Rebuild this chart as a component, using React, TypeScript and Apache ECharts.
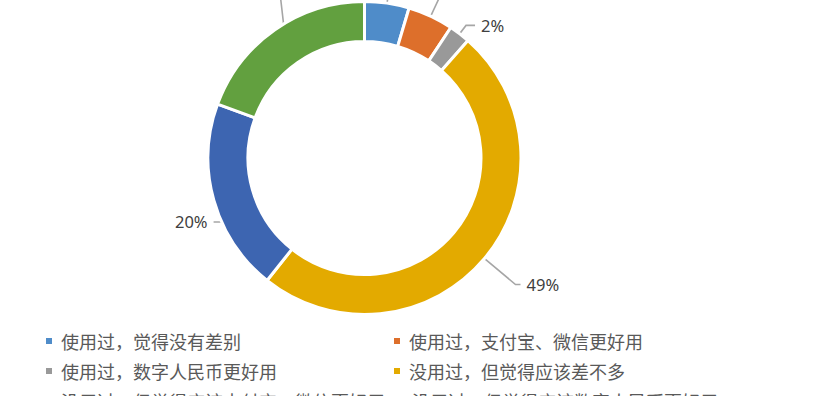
import React, { useEffect, useRef } from "react";
import * as echarts from "echarts";

const categories = [
  "使用过，觉得没有差别",
  "使用过，支付宝、微信更好用",
  "使用过，数字人民币更好用",
  "没用过，但觉得应该差不多",
  "没用过，但觉得应该支付宝、微信更好用",
  "没用过，但觉得应该数字人民币更好用",
];
const values = [4.6, 4.7, 2.2, 49.2, 19.9, 19.4];
const colors = ["#4f8cc9", "#dd6f2b", "#999999", "#e3aa00", "#3d65b1", "#62a03f"];
const lineLengths = [32, 52, 30, 60, 20, 65];
const lineLengths2 = [8, 8, 9, 5, 7, 8];

export default function App() {
  const ref = useRef<HTMLDivElement>(null);
  useEffect(() => {
    if (!ref.current) return;
    const chart = echarts.init(ref.current, null, { renderer: "svg" });
    const center = [364.5, 158];
    // Excel-style elbow for the two left-hand labels: offsets from the library's own anchor point
    const elbowOffsets: Record<number, [number, number, number]> = {
      4: [-10, 27, -9],
      5: [-6, -52, -8],
    };
    chart.setOption({
      animation: false,
      backgroundColor: "#ffffff",
      color: colors,
      legend: {
        left: 44,
        top: 331,
        width: 710,
        padding: 0,
        orient: "horizontal",
        icon: "rect",
        itemWidth: 8,
        itemHeight: 8,
        itemGap: 10,
        selectedMode: false,
        data: categories,
        textStyle: {
          fontFamily: "Noto Sans CJK SC",
          fontSize: 18,
          color: "#595959",
          width: 321,
          lineHeight: 20,
          padding: [0, 0, 0, 3],
        },
      },
      series: [
        {
          type: "pie",
          center,
          radius: [116.5, 156.5],
          startAngle: 90,
          clockwise: true,
          avoidLabelOverlap: false,
          silent: true,
          itemStyle: { borderColor: "#ffffff", borderWidth: 3 },
          label: { show: false },
          labelLine: { show: false },
          data: categories.map((name, i) => ({ name, value: values[i] })),
        },
        {
          type: "pie",
          center,
          radius: [0, 137],
          startAngle: 90,
          clockwise: true,
          avoidLabelOverlap: false,
          silent: true,
          percentPrecision: 0,
          itemStyle: { color: "rgba(0,0,0,0)", borderWidth: 0 },
          label: {
            show: true,
            position: "outside",
            formatter: "{d}%",
            fontFamily: "Noto Sans",
            fontSize: 16.5,
            color: "#404040",
            distanceToLabelLine: 6,
          },
          labelLine: {
            show: true,
            smooth: false,
            lineStyle: { color: "#a6a6a6", width: 1.6 },
          },
          labelLayout: (params: any) => {
            const off = elbowOffsets[params.dataIndex];
            const pts = params.labelLinePoints;
            if (!off || !pts || !pts[0]) return {};
            const s = pts[0];
            const elbow = [s[0] + off[0], s[1] + off[1]];
            const end = [elbow[0] + off[2], elbow[1]];
            return {
              x: end[0] - 6,
              y: end[1],
              align: "right",
              verticalAlign: "middle",
              labelLinePoints: [s, elbow, end],
            };
          },
          data: categories.map((name, i) => ({
            name,
            value: values[i],
            labelLine: { length: lineLengths[i], length2: lineLengths2[i] },
          })),
        },
      ],
    });
    return () => chart.dispose();
  }, []);
  return (
    <div
      ref={ref}
      style={{ position: "fixed", left: 0, top: 0, width: 819, height: 396 }}
    />
  );
}
